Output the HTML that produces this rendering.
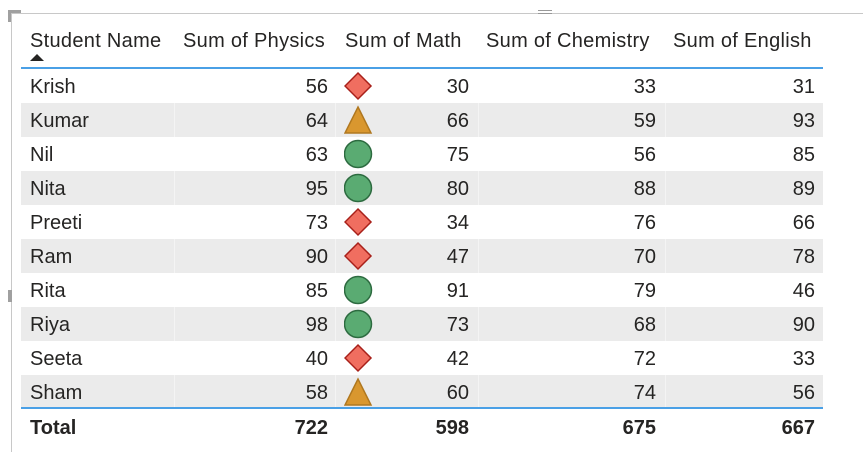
<!DOCTYPE html>
<html><head><meta charset="utf-8"><style>
body{margin:0;width:863px;height:452px;background:#fff;position:relative;overflow:hidden;font-family:"Liberation Sans",sans-serif;color:#252423}
.a{position:absolute}
.row{position:absolute;left:21px;width:802px;height:34px}
.g{background:#ebebeb}
.t{position:absolute;font-size:20px;line-height:34px;white-space:nowrap}
.r{text-align:right}
.hd{letter-spacing:0.3px}
.b{font-weight:bold}
</style></head><body>
<div class="a" style="left:11px;top:13px;width:852px;height:1px;background:#c8c8c8"></div>
<div class="a" style="left:11px;top:13px;width:1px;height:439px;background:#c8c8c8"></div>
<div class="a" style="left:8px;top:10px;width:13px;height:3px;background:#a0a0a0"></div>
<div class="a" style="left:8px;top:10px;width:3px;height:12px;background:#a0a0a0"></div>
<div class="a" style="left:538px;top:10px;width:14px;height:4px;border-top:1px solid #999;border-bottom:1px solid #999;box-sizing:border-box"></div>
<div class="a" style="left:8px;top:290px;width:4px;height:12px;background:#a0a0a0"></div>

<div class="t hd" style="left:30px;top:24px">Student Name</div>
<div class="t hd" style="left:183px;top:24px">Sum of Physics</div>
<div class="t hd" style="left:345px;top:24px">Sum of Math</div>
<div class="t hd" style="left:486px;top:24px">Sum of Chemistry</div>
<div class="t hd" style="left:673px;top:24px">Sum of English</div>
<svg class="a" style="left:30px;top:54px" width="14" height="8"><polygon points="0,7 7,0 14,7" fill="#252423"/></svg>
<div class="a" style="left:21px;top:67px;width:802px;height:2px;background:#4aa0e6"></div>

<div id="rows"></div>
<div class="a" style="left:21px;top:407px;width:802px;height:2px;background:#4aa0e6"></div>
<div class="t b" style="left:30px;top:411px">Total</div>
<div class="t b r" style="left:178px;width:150px;top:411px">722</div>
<div class="t b r" style="left:339px;width:130px;top:411px">598</div>
<div class="t b r" style="left:482px;width:174px;top:411px">675</div>
<div class="t b r" style="left:669px;width:146px;top:411px">667</div>

<script>
var d=[["Krish",56,30,33,31,"d"],["Kumar",64,66,59,93,"t"],["Nil",63,75,56,85,"c"],["Nita",95,80,88,89,"c"],["Preeti",73,34,76,66,"d"],["Ram",90,47,70,78,"d"],["Rita",85,91,79,46,"c"],["Riya",98,73,68,90,"c"],["Seeta",40,42,72,33,"d"],["Sham",58,60,74,56,"t"]];
var h="";
d.forEach(function(r,i){var y=69+i*34;var ty=y+1;
h+='<div class="row'+(i%2?' g':'')+'" style="top:'+y+'px">'+(i%2?'<div class="a" style="left:153px;top:0;width:1px;height:34px;background:#f4f4f4"></div><div class="a" style="left:314px;top:0;width:1px;height:34px;background:#f4f4f4"></div><div class="a" style="left:457px;top:0;width:1px;height:34px;background:#f4f4f4"></div><div class="a" style="left:644px;top:0;width:1px;height:34px;background:#f4f4f4"></div>':'')+'</div>';
h+='<div class="t" style="left:30px;top:'+ty+'px">'+r[0]+'</div>';
h+='<div class="t r" style="left:178px;width:150px;top:'+ty+'px">'+r[1]+'</div>';
h+='<div class="t r" style="left:339px;width:130px;top:'+ty+'px">'+r[2]+'</div>';
h+='<div class="t r" style="left:482px;width:174px;top:'+ty+'px">'+r[3]+'</div>';
h+='<div class="t r" style="left:669px;width:146px;top:'+ty+'px">'+r[4]+'</div>';
var s;
if(r[5]=="d")s='<polygon points="14,3 27,16 14,29 1,16" fill="#f06e60" stroke="#a8201a" stroke-width="1.5"/>';
else if(r[5]=="t")s='<polygon points="14,3 27,29 1,29" fill="#d9972f" stroke="#b07820" stroke-width="1.5"/>';
else s='<circle cx="14" cy="16" r="13.5" fill="#5aab72" stroke="#2d6b40" stroke-width="1.5"/>';
h+='<svg class="a" style="left:344px;top:'+(y+1)+'px" width="30" height="32">'+s+'</svg>';
});
document.getElementById("rows").outerHTML=h;
</script>
</body></html>
